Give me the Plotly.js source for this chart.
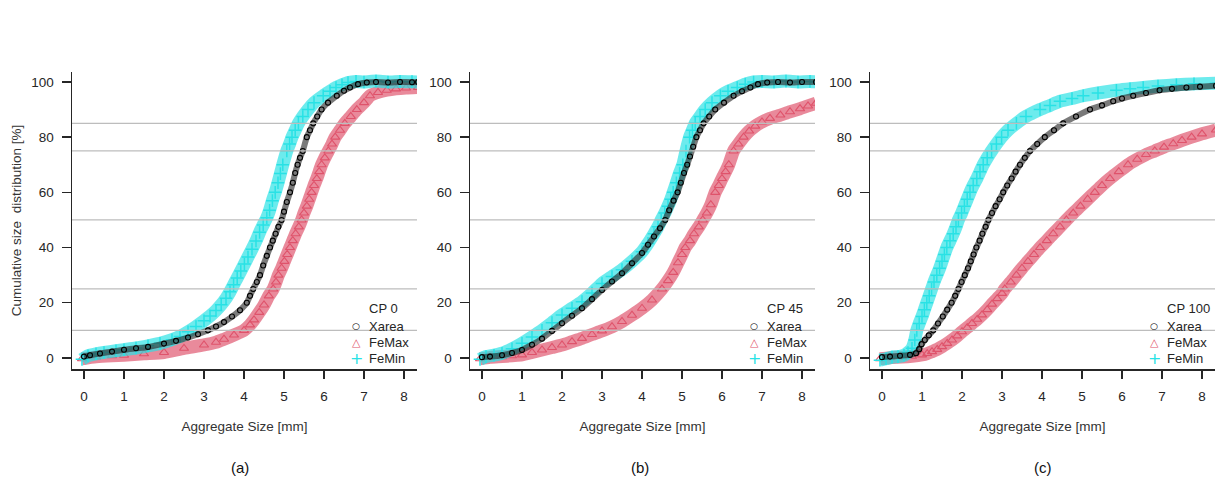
<!DOCTYPE html>
<html>
<head>
<meta charset="utf-8">
<script src="https://cdn.plot.ly/plotly-3.0.1.min.js"></script>
<style>
  html, body { margin: 0; padding: 0; background: #ffffff; }
  #chart { width: 1217px; height: 479px; }
</style>
</head>
<body>
<div id="chart"></div>
<script>
// ---------------- data ----------------
const xTicks = [0, 1, 2, 3, 4, 5, 6, 7, 8];
const yTicks = [0, 20, 40, 60, 80, 100];
const refLines = [10, 25, 50, 75, 85];
const panelTitles = ['CP 0', 'CP 45', 'CP 100'];
const panelLabels = ['(a)', '(b)', '(c)'];
const seriesNames = ['Xarea', 'FeMax', 'FeMin'];

// Panel (a) CP 0
const a_xarea_x = [0, 0.15, 0.4, 0.7, 1.0, 1.3, 1.6, 2.0, 2.3, 2.6, 2.85, 3.1, 3.3, 3.5, 3.7, 3.9, 4.07, 4.15, 4.23, 4.32, 4.4, 4.48, 4.57, 4.65, 4.72, 4.79, 4.86, 4.94, 5.0, 5.07, 5.15, 5.22, 5.28, 5.34, 5.4, 5.47, 5.57, 5.65, 5.73, 5.83, 5.94, 6.1, 6.32, 6.5, 6.65, 6.85, 7.07, 7.3, 7.6, 7.9, 8.2, 8.35];
const a_xarea_y = [0.5, 1.0, 1.6, 2.3, 3.0, 3.5, 4.0, 5.2, 6.2, 7.4, 8.6, 10, 11.4, 13, 15, 17.3, 20, 22.5, 25, 27.5, 30, 33.5, 37, 40, 42.5, 45, 47.5, 50, 53, 56.5, 60, 63.5, 67, 70, 72.5, 75, 80, 82.5, 85, 87.5, 90, 92.5, 95, 96.8, 98, 99.2, 99.8, 100, 99.8, 100, 99.9, 100];
const a_femax_x = [-0.05, 0.3, 0.7, 1.0, 1.5, 2.0, 2.5, 3.0, 3.3, 3.5, 3.75, 4.0, 4.15, 4.25, 4.38, 4.5, 4.62, 4.73, 4.8, 4.86, 4.94, 5.01, 5.08, 5.15, 5.22, 5.29, 5.37, 5.44, 5.5, 5.57, 5.63, 5.69, 5.75, 5.82, 5.88, 5.94, 6.02, 6.11, 6.2, 6.28, 6.4, 6.52, 6.67, 6.82, 7.0, 7.15, 7.35, 7.57, 7.8, 8.05, 8.35];
const a_femax_y = [-0.3, 0.4, 0.8, 1.0, 1.5, 2.0, 3.5, 4.7, 5.7, 6.8, 8.3, 10, 12, 13.8, 16.5, 19.2, 22.5, 25, 27.5, 30, 32.5, 35, 37.5, 40, 42.5, 45, 47.5, 50, 52.5, 55, 57.5, 60, 62.5, 65, 67.5, 70, 72.5, 75, 77.5, 80, 82.5, 85, 87.5, 90, 92.5, 95, 96.2, 97, 97.5, 97.8, 98];
const a_femin_x = [-0.05, 0.1, 0.3, 0.5, 0.8, 1.0, 1.3, 1.6, 1.9, 2.2, 2.4, 2.6, 2.8, 3.0, 3.15, 3.3, 3.43, 3.55, 3.65, 3.74, 3.83, 3.92, 4.01, 4.1, 4.2, 4.3, 4.39, 4.48, 4.57, 4.64, 4.71, 4.78, 4.85, 4.91, 4.97, 5.07, 5.14, 5.2, 5.28, 5.36, 5.47, 5.6, 5.75, 5.98, 6.15, 6.3, 6.45, 6.6, 6.8, 7.0, 7.3, 7.6, 7.9, 8.2, 8.35];
const a_femin_y = [-0.5, 0.8, 1.5, 2.0, 2.6, 3.0, 3.6, 4.4, 5.3, 6.6, 7.8, 9.5, 11.4, 13.5, 15.2, 17.2, 19.3, 21.6, 24, 26.5, 29, 31.5, 34, 36.6, 39.4, 42.4, 45.5, 48.2, 50.8, 53.5, 57, 60, 63.5, 66.8, 70, 75, 77.5, 80, 82.5, 85, 87.5, 90, 92.5, 95, 96.6, 98, 99, 99.8, 100.2, 100, 100.3, 100, 100.2, 100.1, 100];

// Panel (b) CP 45
const b_xarea_x = [0, 0.2, 0.5, 0.75, 1.0, 1.25, 1.5, 1.75, 2.0, 2.25, 2.5, 2.75, 3.0, 3.25, 3.5, 3.75, 4.0, 4.15, 4.3, 4.45, 4.58, 4.68, 4.79, 4.89, 4.97, 5.05, 5.13, 5.2, 5.28, 5.36, 5.45, 5.54, 5.68, 5.83, 6.05, 6.29, 6.5, 6.71, 6.9, 7.13, 7.4, 7.7, 8.0, 8.35];
const b_xarea_y = [0.3, 0.5, 1.0, 1.8, 2.9, 4.8, 7.0, 9.8, 12.6, 15.3, 18, 21.3, 24.6, 27.7, 30.7, 34.3, 38, 41, 44, 47, 50, 53.5, 57, 60, 63.5, 67, 70, 73, 76.5, 80, 82.5, 85, 87.5, 90, 92.5, 95, 96.6, 98, 99.2, 99.8, 100, 99.8, 100, 100];
const b_femax_x = [-0.05, 0.2, 0.5, 0.75, 1.0, 1.25, 1.5, 1.75, 2.0, 2.25, 2.5, 2.75, 3.0, 3.25, 3.5, 3.75, 4.0, 4.25, 4.5, 4.65, 4.78, 4.9, 5.0, 5.08, 5.2, 5.3, 5.42, 5.52, 5.62, 5.72, 5.83, 5.92, 6.0, 6.09, 6.17, 6.29, 6.41, 6.54, 6.68, 6.83, 7.0, 7.2, 7.46, 7.7, 7.95, 8.15, 8.35];
const b_femax_y = [-0.3, 0.2, 0.5, 0.8, 1.1, 2.0, 2.9, 3.8, 4.7, 5.9, 7.1, 8.5, 9.8, 11.3, 13.2, 15.5, 18, 21, 25, 28, 31, 34.5, 37.5, 40, 42.5, 45, 47.5, 50, 52.5, 55.5, 60, 62.5, 65, 67.5, 70, 75, 77.5, 80, 82.2, 84, 85.5, 86.8, 88, 89.2, 90.3, 91.3, 92.3];
const b_femin_x = [-0.05, 0.1, 0.3, 0.5, 0.75, 1.0, 1.25, 1.5, 1.75, 2.0, 2.25, 2.5, 2.75, 3.0, 3.25, 3.5, 3.75, 4.0, 4.15, 4.3, 4.4, 4.48, 4.57, 4.65, 4.72, 4.78, 4.86, 4.94, 5.02, 5.1, 5.19, 5.26, 5.33, 5.45, 5.58, 5.75, 5.96, 6.15, 6.38, 6.58, 6.79, 7.0, 7.3, 7.6, 7.9, 8.2, 8.35];
const b_femin_y = [-0.5, 0.5, 1.0, 1.7, 3.3, 5.3, 7.6, 10, 12.8, 15.6, 18, 20.4, 23.5, 27, 29.5, 32, 35, 38.5, 41.5, 45, 47.5, 50, 52.5, 55, 57.5, 60, 63.5, 67, 70, 75, 80, 82.5, 85, 87.5, 90, 92.5, 95, 96.6, 98, 99.2, 100, 100.2, 100, 100.3, 100, 100.2, 100];

// Panel (c) CP 100
const c_xarea_x = [0, 0.2, 0.45, 0.7, 0.85, 0.93, 0.99, 1.07, 1.17, 1.28, 1.4, 1.52, 1.63, 1.74, 1.83, 1.91, 1.99, 2.07, 2.15, 2.22, 2.29, 2.36, 2.44, 2.51, 2.59, 2.66, 2.75, 2.84, 2.94, 3.03, 3.13, 3.24, 3.34, 3.45, 3.57, 3.7, 3.88, 4.07, 4.3, 4.53, 4.85, 5.2, 5.5, 5.78, 6.0, 6.28, 6.6, 6.94, 7.25, 7.61, 7.95, 8.35];
const c_xarea_y = [0.3, 0.5, 0.8, 1.1, 1.7, 3.2, 5, 6.5, 8.2, 10, 12.5, 15, 17.5, 20, 22.5, 25, 27.5, 30, 32.5, 35, 37.5, 40, 42.5, 45, 47.5, 50, 52.5, 55, 57.5, 60, 62.5, 65, 67.5, 70, 72.5, 75, 77.5, 80, 82.5, 85, 87.5, 90, 91.5, 93, 94, 95, 96, 97, 97.5, 98, 98.3, 98.6];
const c_femax_x = [-0.05, 0.2, 0.5, 0.75, 1.0, 1.13, 1.25, 1.38, 1.5, 1.63, 1.75, 1.88, 2.0, 2.13, 2.25, 2.38, 2.5, 2.63, 2.75, 2.88, 3.0, 3.07, 3.22, 3.36, 3.5, 3.65, 3.8, 3.95, 4.12, 4.28, 4.45, 4.61, 4.78, 4.96, 5.14, 5.32, 5.5, 5.7, 5.92, 6.15, 6.38, 6.6, 6.82, 7.05, 7.28, 7.5, 7.74, 8.0, 8.35];
const c_femax_y = [-0.3, 0.1, 0.3, 0.6, 1.1, 1.6, 2.3, 3.1, 4.1, 5.3, 6.5, 8.0, 9.5, 11.0, 12.5, 14.0, 15.6, 17.5, 19.5, 21.5, 23.4, 25, 27.5, 30, 32.5, 35, 37.5, 40, 42.5, 45, 47.5, 50, 52.5, 55, 57.5, 60, 62.5, 65, 67.5, 70, 72, 73.7, 75, 76.4, 77.6, 78.8, 80, 81.2, 82.6];
const c_femin_x = [-0.05, 0.1, 0.25, 0.4, 0.55, 0.65, 0.75, 0.82, 0.87, 0.93, 1.0, 1.06, 1.12, 1.18, 1.24, 1.3, 1.37, 1.44, 1.5, 1.56, 1.62, 1.7, 1.78, 1.85, 1.91, 1.99, 2.06, 2.13, 2.2, 2.28, 2.37, 2.45, 2.53, 2.63, 2.74, 2.86, 2.99, 3.15, 3.36, 3.6, 3.95, 4.2, 4.45, 4.75, 5.03, 5.4, 5.86, 6.2, 6.53, 6.9, 7.36, 7.8, 8.35];
const c_femin_y = [-0.8, -0.3, 0.3, 0.5, 1.0, 2.0, 3.5, 6.5, 10, 12.5, 15, 17.5, 20, 22.5, 25, 27.5, 30, 32.5, 35, 37.5, 40, 42.5, 45, 47.5, 50, 52.5, 55, 57.5, 60, 62.5, 65, 67.5, 70, 72.5, 75, 77.5, 80, 82.5, 85, 87.5, 90, 91.5, 93, 94, 95, 96, 97, 97.5, 98, 98.5, 99, 99.3, 99.5];

// ---------------- styling ----------------
const W = 1217, H = 479;
const FONT = 'Liberation Sans, Arial, Helvetica, sans-serif';
const INK = '#262626';
const styles = {
  Xarea: { symbol: 'circle-open', size: 5, color: '#000000', band: 'rgba(40,40,40,0.62)', bandW: 6, lw: 1.1 },
  FeMax: { symbol: 'triangle-up-open', size: 8, color: '#DF536B', band: 'rgba(223,83,107,0.68)', bandW: 13, lw: 1.1 },
  FeMin: { symbol: 'cross-thin', size: 9, color: '#28E2E5', band: 'rgba(40,226,229,0.68)', bandW: 13, lw: 1.5 }
};
const legendSym = { Xarea: '○', FeMax: '△', FeMin: '+' };
const legendSymSize = { Xarea: 9, FeMax: 11, FeMin: 16 };

// panel geometry in pixels (left edge of plot area, right edge)
const panelPx = [[72, 417], [470, 815], [870, 1215]];
const plotTop = 72, plotBottom = 369;
const yDomain = [(H - plotBottom) / H, (H - plotTop) / H];

const panelData = [
  { Xarea: [a_xarea_x, a_xarea_y], FeMax: [a_femax_x, a_femax_y], FeMin: [a_femin_x, a_femin_y] },
  { Xarea: [b_xarea_x, b_xarea_y], FeMax: [b_femax_x, b_femax_y], FeMin: [b_femin_x, b_femin_y] },
  { Xarea: [c_xarea_x, c_xarea_y], FeMax: [c_femax_x, c_femax_y], FeMin: [c_femin_x, c_femin_y] }
];
const drawOrder = ['FeMax', 'FeMin', 'Xarea'];

const traces = [];
const layout = {
  width: W, height: H,
  margin: { l: 0, r: 0, t: 0, b: 0 },
  paper_bgcolor: '#ffffff', plot_bgcolor: '#ffffff',
  showlegend: false,
  font: { family: FONT, color: INK, size: 13 },
  shapes: [], annotations: []
};

panelData.forEach((pd, i) => {
  const sfx = i === 0 ? '' : String(i + 1);
  const xa = 'x' + sfx, ya = 'y' + sfx;
  drawOrder.forEach(name => {
    const st = styles[name];
    traces.push({
      type: 'scatter', mode: 'lines+markers', name: name,
      x: pd[name][0], y: pd[name][1], xaxis: xa, yaxis: ya,
      line: { color: st.band, width: st.bandW, shape: 'spline', smoothing: 0.6 },
      marker: { symbol: st.symbol, size: st.size, color: st.color, line: { color: st.color, width: st.lw } },
      hoverinfo: 'x+y+name'
    });
  });
  const [l, r] = panelPx[i];
  layout['xaxis' + sfx] = {
    domain: [l / W, r / W], anchor: ya, range: [-0.3, 8.325],
    tickvals: xTicks, ticktext: xTicks.map(String),
    ticks: 'outside', ticklen: 8, tickwidth: 1.3, tickcolor: INK,
    ticklabelstandoff: 6,
    showline: true, linecolor: INK, linewidth: 1.5,
    showgrid: false, zeroline: false,
    tickfont: { family: FONT, size: 13.5, color: INK },
    title: { text: 'Aggregate Size [mm]', font: { family: FONT, size: 13.5, color: '#333333' }, standoff: 19 }
  };
  layout['yaxis' + sfx] = {
    domain: yDomain, anchor: xa, range: [-4, 103.6],
    tickvals: yTicks, ticktext: yTicks.map(String),
    ticks: 'outside', ticklen: 9, tickwidth: 1.3, tickcolor: INK,
    ticklabelstandoff: 5,
    showline: true, linecolor: INK, linewidth: 1.5,
    showgrid: false, zeroline: false,
    tickfont: { family: FONT, size: 13.5, color: INK },
    title: i === 0 ? { text: 'Cumulative size\u00A0 distribution [%]', font: { family: FONT, size: 13.5, color: '#333333' }, standoff: 6 } : { text: '' }
  };
  // reference lines
  refLines.forEach(v => {
    layout.shapes.push({
      type: 'line', xref: xa + ' domain', x0: 0, x1: 1, yref: ya, y0: v, y1: v,
      line: { color: '#bdbdbd', width: 1.3 }, layer: 'above'
    });
  });
  // legend (as text)
  const textLeft = r - 50, symX = r - 61;
  layout.annotations.push({
    xref: 'paper', yref: 'paper', x: textLeft / W, y: 1 - 308 / H,
    xanchor: 'left', yanchor: 'middle', showarrow: false,
    text: panelTitles[i], font: { family: FONT, size: 13, color: INK }
  });
  seriesNames.forEach((name, k) => {
    const py = 326 + k * 16;
    layout.annotations.push({
      xref: 'paper', yref: 'paper', x: symX / W, y: 1 - py / H,
      xanchor: 'center', yanchor: 'middle', showarrow: false,
      text: legendSym[name], font: { family: 'DejaVu Sans, sans-serif', size: legendSymSize[name], color: styles[name].color }
    });
    layout.annotations.push({
      xref: 'paper', yref: 'paper', x: textLeft / W, y: 1 - py / H,
      xanchor: 'left', yanchor: 'middle', showarrow: false,
      text: name, font: { family: FONT, size: 13, color: INK }
    });
  });
  // panel label
  layout.annotations.push({
    xref: 'paper', yref: 'paper', x: [240, 640, 1043][i] / W, y: 1 - 467 / H,
    xanchor: 'center', yanchor: 'middle', showarrow: false,
    text: panelLabels[i], font: { family: FONT, size: 15, color: '#111111' }
  });
});

Plotly.newPlot('chart', traces, layout, { displayModeBar: false, responsive: false, staticPlot: true });
</script>
</body>
</html>
